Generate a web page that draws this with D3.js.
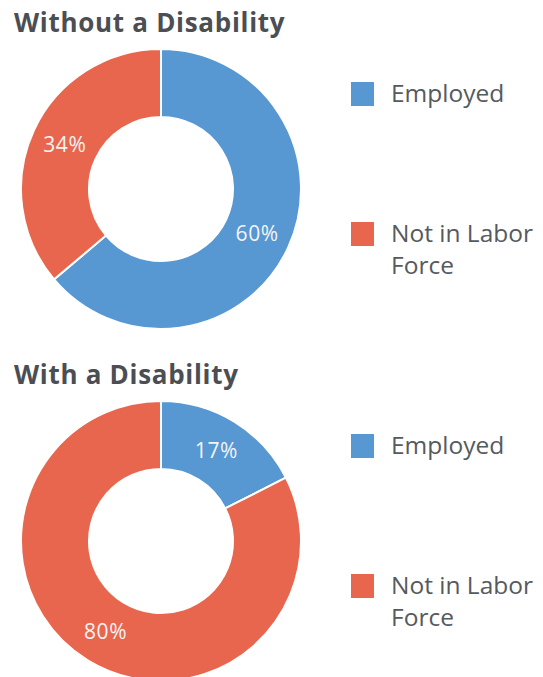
<!DOCTYPE html>
<html>
<head>
<meta charset="utf-8">
<script src="https://cdn.jsdelivr.net/npm/d3@7/dist/d3.min.js"></script>
<style>
  html, body { margin: 0; padding: 0; background: #fff; }
  svg { display: block; }
  text { font-family: "Open Sans", "Noto Sans", sans-serif; }
</style>
</head>
<body>
<svg id="chart" width="543" height="677"></svg>
<script>
// Labor force status by disability, shares of population
const categories = ["Employed", "Not in Labor Force"];
const legendLines = [["Employed"], ["Not in Labor", "Force"]];
const groupTitles = ["Without a Disability", "With a Disability"];
const withoutDisability = [60, 34];
const withDisability = [17, 80];
const colors = ["#5797d2", "#e8664d"];

const panels = [
  { title: groupTitles[0], values: withoutDisability, top: 0 },
  { title: groupTitles[1], values: withDisability, top: 352 }
];

const svg = d3.select("#chart");
const color = d3.scaleOrdinal().domain(categories).range(colors);

const outerR = 140, innerR = 72;
const pie = d3.pie().sort(null).value(d => d.value);
const arc = d3.arc().innerRadius(innerR).outerRadius(outerR);
const labelArc = d3.arc().innerRadius((innerR + outerR) / 2).outerRadius((innerR + outerR) / 2);

panels.forEach(p => {
  const g = svg.append("g").attr("transform", `translate(0,${p.top})`);

  g.append("text")
    .attr("x", 14)
    .attr("y", 32)
    .attr("font-size", 26)
    .attr("letter-spacing", 0.7)
    .attr("font-weight", 700)
    .attr("fill", "#4b4e53")
    .text(p.title);

  const data = categories.map((c, i) => ({ category: c, value: p.values[i] }));
  const arcs = pie(data);

  const donut = g.append("g").attr("transform", `translate(161,${189})`);

  donut.selectAll("path")
    .data(arcs)
    .join("path")
    .attr("d", arc)
    .attr("fill", d => color(d.data.category))
    .attr("stroke", "#fff")
    .attr("stroke-width", 2);

  donut.selectAll("text.value")
    .data(arcs)
    .join("text")
    .attr("class", "value")
    .attr("transform", d => `translate(${labelArc.centroid(d)})`)
    .attr("text-anchor", "middle")
    .attr("dy", "0.36em")
    .attr("font-size", 21)
    .attr("letter-spacing", 0.6)
    .attr("fill", "#f4f4f4")
    .text(d => d.data.value + "%");

  // legend
  const legendY = [82, 222];
  const legend = g.selectAll("g.legend")
    .data(categories)
    .join("g")
    .attr("class", "legend")
    .attr("transform", (d, i) => `translate(351,${legendY[i]})`);

  legend.append("rect")
    .attr("width", 23)
    .attr("height", 24)
    .attr("fill", d => color(d));

  legend.append("text")
    .attr("x", 40)
    .attr("y", 20)
    .attr("font-size", 24.5)
    .attr("fill", "#555a5f")
    .selectAll("tspan")
    .data((d, i) => legendLines[i])
    .join("tspan")
    .attr("x", 40)
    .attr("dy", (d, j) => j === 0 ? 0 : 31.6)
    .text(d => d);
});
</script>
</body>
</html>
